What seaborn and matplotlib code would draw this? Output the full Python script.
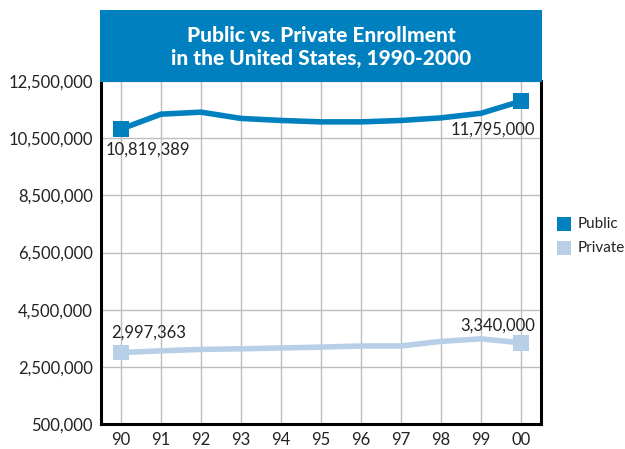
import matplotlib
matplotlib.use("Agg")
import matplotlib.pyplot as plt
import seaborn as sns
import pandas as pd
from matplotlib.patches import Rectangle

years = ["90", "91", "92", "93", "94", "95", "96", "97", "98", "99", "00"]
public = [10819389, 11340000, 11410000, 11190000, 11120000, 11070000, 11070000, 11120000, 11210000, 11370000, 11795000]
private = [2997363, 3060000, 3110000, 3130000, 3160000, 3190000, 3230000, 3230000, 3390000, 3480000, 3340000]
yticks = [500000, 2500000, 4500000, 6500000, 8500000, 10500000, 12500000]
title = "Public vs. Private Enrollment\nin the United States, 1990-2000"

c_pub = "#0080BF"
c_priv = "#B8CFE8"

sns.set_theme(style="white")
plt.rcParams['font.family'] = ['Lato', 'DejaVu Sans']

df = pd.DataFrame({
    "year": years * 2,
    "x": list(range(len(years))) * 2,
    "value": public + private,
    "type": ["Public"] * len(years) + ["Private"] * len(years),
})

fig = plt.figure(figsize=(6.25, 4.49), dpi=100)
ax = fig.add_axes([101/625, 1-424/449, 440/625, 343/449])

ax.set_axisbelow(True)
for i in range(len(years)):
    ax.axvline(i, color="#BDBDBD", lw=1, zorder=0)
for t in yticks:
    ax.axhline(t, color="#BDBDBD", lw=1, zorder=0)

pal = {"Public": c_pub, "Private": c_priv}
sns.lineplot(data=df, x="x", y="value", hue="type", palette=pal,
             linewidth=4, ax=ax, legend=False, zorder=3)
ends = df[df["x"].isin([0, len(years)-1])]
sns.scatterplot(data=ends, x="x", y="value", hue="type", palette=pal,
                marker="s", s=125, linewidth=0, ax=ax, legend=False, zorder=4)

ax.set_xlim(-0.5, len(years)-0.5)
ax.set_ylim(500000, 12500000)
ax.set_xticks(range(len(years)))
ax.set_xticklabels(years)
ax.set_yticks(yticks)
ax.set_yticklabels([f"{v:,}" for v in yticks])
ax.tick_params(axis="both", labelsize=12, colors="#222222", length=0, pad=6)
ax.set_xlabel("")
ax.set_ylabel("")
for s in ["left", "right", "bottom"]:
    ax.spines[s].set_color("black")
    ax.spines[s].set_linewidth(2.2)
ax.spines["top"].set_visible(False)

ax.text(-0.38, public[0] - 720000, f"{public[0]:,}", fontsize=12, color="#222222", ha="left", va="center")
ax.text(10.35, public[-1] - 1000000, f"{public[-1]:,}", fontsize=12, color="#222222", ha="right", va="center")
ax.text(-0.25, private[0] + 700000, f"{private[0]:,}", fontsize=12, color="#222222", ha="left", va="center")
ax.text(10.35, private[-1] + 600000, f"{private[-1]:,}", fontsize=12, color="#222222", ha="right", va="center")

# title banner
fig.patches.append(Rectangle((100/625, 1-82/449), 442/625, 72/449, transform=fig.transFigure,
                             facecolor=c_pub, edgecolor="none", zorder=5))
fig.text(321/625, 1-47/449, title, ha="center", va="center", color="white",
         fontsize=15, fontweight="black", linespacing=1.25, zorder=6)

# legend
for lab, col, yy in [("Public", c_pub, 224), ("Private", c_priv, 248)]:
    fig.patches.append(Rectangle((557/625, 1-(yy+7)/449), 14/625, 14/449, transform=fig.transFigure,
                                 facecolor=col, edgecolor="none"))
    fig.text(578/625, 1-yy/449, lab, ha="left", va="center", fontsize=11, color="#222222")

fig.savefig("out.png", dpi=100)
